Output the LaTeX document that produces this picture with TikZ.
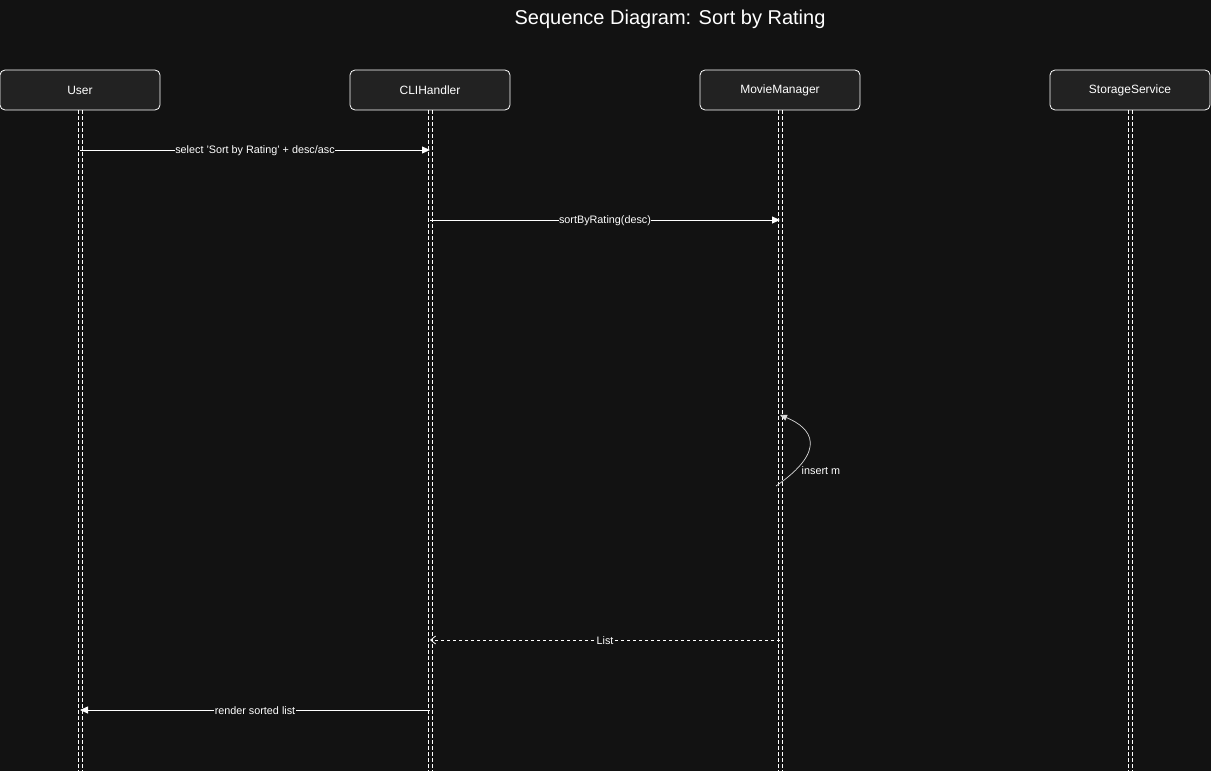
\documentclass[tikz,border=0pt]{standalone}
\usepackage{fontspec}
\setmainfont{Liberation Sans}
\usetikzlibrary{arrows.meta}
\definecolor{bgcol}{HTML}{121212}
\definecolor{boxcol}{HTML}{222222}

\begin{document}
\begin{tikzpicture}[x=1pt,y=-1pt,
  actor/.style={draw=white,fill=boxcol,rounded corners=5pt,line width=0.8pt,
    minimum width=160pt,minimum height=40pt,text=white,font=\fontsize{12}{14}\selectfont},
  life/.style={draw=white,line width=0.8pt,dash pattern=on 4pt off 2pt},
  msg/.style={draw=white,line width=0.8pt,-{Triangle[length=8pt,width=7pt]}},
  reply/.style={draw=white,line width=0.8pt,dash pattern=on 3pt off 3pt,
    -{Straight Barb[length=5pt,width=8pt,line width=0.8pt]}},
  lbl/.style={fill=bgcol,text=white,font=\fontsize{10.8}{12}\selectfont,inner sep=0.5pt}]

\useasboundingbox (0,0) rectangle (1211,771);
\fill[bgcol] (0,0) rectangle (1211,771);

\node[text=white,font=\fontsize{20}{24}\selectfont] (title) at (670,19) {Sequence Diagram: Sort by Rating};

\node[actor](user) at (80,90) {User};
\node[actor](cli) at (430,90) {CLIHandler};
\node[actor](mgr) at (780,90) {MovieManager};
\node[actor](store) at (1130,90) {StorageService};

\coordinate(userend) at (80,771);
\coordinate(cliend) at (430,771);
\coordinate(mgrend) at (780,771);
\coordinate(storeend) at (1130,771);

\foreach \who in {user,cli,mgr,store}{
  \draw[life] ([xshift=-2pt]\who.south) -- ([xshift=-2pt]\who end);
  \draw[life] ([xshift=2pt]\who.south) -- ([xshift=2pt]\who end);
}

\draw[msg] (user |- 0,150) -- node[lbl,yshift=-1pt]{select 'Sort by Rating' + desc/asc} (cli |- 0,150);
\draw[msg] (cli |- 0,220) -- node[lbl,yshift=-1pt]{sortByRating(desc)} (mgr |- 0,220);

\coordinate(loopstart) at (776,486);
\draw[draw=white!85!black,line width=0.7pt,-{Triangle[length=7pt,width=6pt]}]
  (loopstart) .. controls (828,450) and (812,428) .. (mgr |- 0,415);
\node[lbl,anchor=west] (insert) at (801,471) {insert m};

\draw[reply] (mgr |- 0,640) -- node[lbl,yshift=-1pt]{List} (cli |- 0,640);
\draw[msg] (cli |- 0,710) -- node[lbl,yshift=-1pt]{render sorted list} (user |- 0,710);

\end{tikzpicture}
\end{document}
